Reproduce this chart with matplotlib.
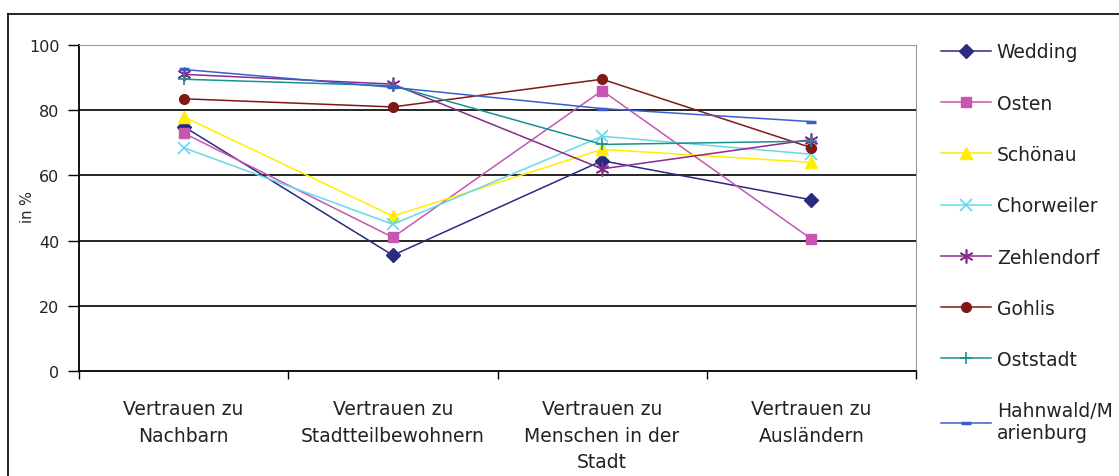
import matplotlib
matplotlib.use("Agg")
import matplotlib.pyplot as plt
from matplotlib.lines import Line2D

plt.rcParams['font.family'] = ['DejaVu Sans']

categories = ["Vertrauen zu\nNachbarn", "Vertrauen zu\nStadtteilbewohnern",
              "Vertrauen zu\nMenschen in der\nStadt", "Vertrauen zu\nAusländern"]
series_names = ["Wedding", "Osten", "Schönau", "Chorweiler", "Zehlendorf",
                "Gohlis", "Oststadt", "Hahnwald/M\narienburg"]
wedding = [75, 35.5, 64.5, 52.5]
osten = [73, 41, 86, 40.5]
schoenau = [78, 47.5, 68, 64]
chorweiler = [68.5, 45, 72, 66.5]
zehlendorf = [91, 88, 62, 71]
gohlis = [83.5, 81, 89.5, 68.5]
oststadt = [89.5, 87.5, 69.5, 70.5]
hahnwald = [92.5, 87, 80.5, 76.5]
yticks = [0, 20, 40, 60, 80, 100]

values = [wedding, osten, schoenau, chorweiler, zehlendorf, gohlis, oststadt, hahnwald]
colors = ["#2a2a80", "#c855b0", "#ffee00", "#66d8ee", "#8a2a8a", "#801818", "#1a9090", "#3a5fcd"]
markers = ["D", "s", "^", "x", (6, 2, 0), "o", "+", "_"]
msizes = [7, 7, 8, 8, 10, 7, 9, 7]

fig = plt.figure(figsize=(11.19, 4.77), dpi=100)
ax = fig.add_axes([79/1119, 1-372/477, (916-79)/1119, (372-46)/477])

x = list(range(len(categories)))
handles = []
for name, vals, c, m, ms in zip(series_names, values, colors, markers, msizes):
    if m == "_":
        mew = 2.5
    elif m in ("x", "+", (6, 2, 0)):
        mew = 1.2
    else:
        mew = 1.0
    h, = ax.plot(x, vals, color=c, marker=m, markersize=ms, linewidth=1.1,
                 markeredgewidth=mew, markerfacecolor=c, markeredgecolor=c, label=name)
    handles.append(h)

ax.set_xlim(-0.5, 3.5)
ax.set_ylim(0, 100)
ax.set_yticks(yticks)
ax.set_yticklabels([str(t) for t in yticks], fontsize=11.5, color='#222222')
for yv in yticks[1:-1]:
    ax.axhline(yv, color="black", linewidth=1.2, zorder=0)
ax.set_xticks([-0.5, 0.5, 1.5, 2.5, 3.5])
ax.set_xticklabels([])
ax.tick_params(axis='x', direction='out', length=6, width=1, colors='black')
ax.tick_params(axis='y', direction='out', length=8, width=1, pad=6)
for i, lab in enumerate(categories):
    ax.text(i, -8.5, lab, ha='center', va='top', fontsize=13.5, linespacing=1.52,
            color='#222222', transform=ax.transData, clip_on=False)
ax.spines['left'].set_color('black')
ax.spines['left'].set_linewidth(1.3)
ax.spines['bottom'].set_color('black')
ax.spines['bottom'].set_linewidth(1.3)
ax.spines['top'].set_color('#999999')
ax.spines['right'].set_color('#999999')

fig.text(27/1119, 1-207/477, "in %", rotation=90, fontsize=10.5, ha='center', va='center',
         color='#222222')

fig.legend(handles=handles, loc='upper left', bbox_to_anchor=(933/1119, 1-36/477),
           frameon=False, fontsize=13.5, handlelength=2.7, handletextpad=0.3,
           labelspacing=1.72, borderaxespad=0, labelcolor='#222222')

# outer chart frame
fig.add_artist(Line2D([8/1119, 1.0], [1-15/477, 1-15/477], transform=fig.transFigure,
                      color='black', linewidth=1.2))
fig.add_artist(Line2D([8/1119, 8/1119], [0, 1-15/477], transform=fig.transFigure,
                      color='black', linewidth=1.2))

fig.savefig("out.png", dpi=100)
